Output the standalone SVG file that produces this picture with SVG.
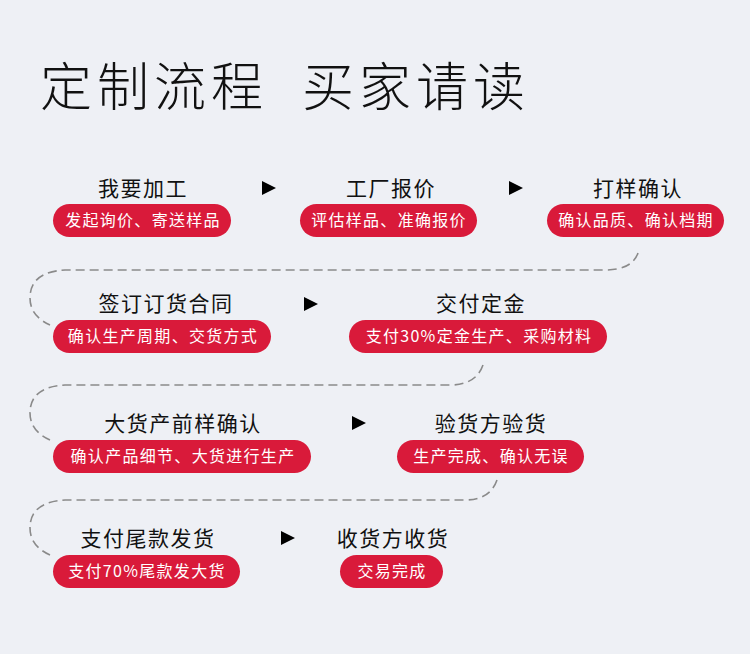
<svg xmlns="http://www.w3.org/2000/svg" width="750" height="654" viewBox="0 0 750 654">
<style>
.t{font-family:"Noto Sans CJK SC","Noto Sans",sans-serif;font-size:21px;letter-spacing:1.5px;fill:#111;text-anchor:middle}
.s{font-family:"Noto Sans CJK SC","Noto Sans",sans-serif;font-size:16px;letter-spacing:1.3px;fill:#fff;text-anchor:middle}
.h{font-family:"Noto Sans CJK SC",sans-serif;font-size:52px;letter-spacing:5px;fill:#111;font-weight:300}
.p{fill:#d91a3a}
.d{fill:none;stroke:#8a8a8a;stroke-width:1.6;stroke-dasharray:9 5}
.a{fill:#000}
</style>
<rect x="0" y="0" width="750" height="654" fill="#eef0f5"/>
<text class="h" x="40" y="106">定制流程</text>
<text class="h" x="302" y="106">买家请读</text>
<g id="connectors">
<path class="d" d="M638,253 Q632,270 605,270 H65 Q30,272 30,298 Q30,316 50,325"/>
<path class="d" d="M483,365 Q476,385 450,385 H65 Q30,387 30,413 Q30,431 50,440"/>
<path class="d" d="M497,480 Q490,500 465,500 H65 Q30,502 30,528 Q30,546 50,555"/>
<polygon class="a" points="262,181 276,188 262,195"/>
<polygon class="a" points="509,181 523,188 509,195"/>
<polygon class="a" points="304,297 318,304 304,311"/>
<polygon class="a" points="352,416 366,423 352,430"/>
<polygon class="a" points="281,531 295,538 281,545"/>
</g>
<g id="n1"><text class="t" x="143" y="196">我要加工</text><rect class="p" x="53" y="204" width="178" height="33" rx="16.5"/><text class="s" x="143" y="226">发起询价、寄送样品</text></g>
<g id="n2"><text class="t" x="391" y="196">工厂报价</text><rect class="p" x="300" y="204" width="177" height="33" rx="16.5"/><text class="s" x="389" y="226">评估样品、准确报价</text></g>
<g id="n3"><text class="t" x="638" y="196">打样确认</text><rect class="p" x="547" y="204" width="177" height="33" rx="16.5"/><text class="s" x="636" y="226">确认品质、确认档期</text></g>
<g id="n4"><text class="t" x="166" y="311">签订订货合同</text><rect class="p" x="53" y="320" width="218" height="33" rx="16.5"/><text class="s" x="163" y="342">确认生产周期、交货方式</text></g>
<g id="n5"><text class="t" x="481" y="311">交付定金</text><rect class="p" x="349" y="320" width="258" height="33" rx="16.5"/><text class="s" x="479" y="342">支付30%定金生产、采购材料</text></g>
<g id="n6"><text class="t" x="183" y="431">大货产前样确认</text><rect class="p" x="53" y="440" width="258" height="33" rx="16.5"/><text class="s" x="183" y="462">确认产品细节、大货进行生产</text></g>
<g id="n7"><text class="t" x="491" y="431">验货方验货</text><rect class="p" x="397" y="440" width="187" height="33" rx="16.5"/><text class="s" x="491" y="462">生产完成、确认无误</text></g>
<g id="n8"><text class="t" x="148" y="546">支付尾款发货</text><rect class="p" x="53" y="555" width="187" height="33" rx="16.5"/><text class="s" x="147" y="577">支付70%尾款发大货</text></g>
<g id="n9"><text class="t" x="393" y="546">收货方收货</text><rect class="p" x="340" y="555" width="103" height="33" rx="16.5"/><text class="s" x="392" y="577">交易完成</text></g>
</svg>
